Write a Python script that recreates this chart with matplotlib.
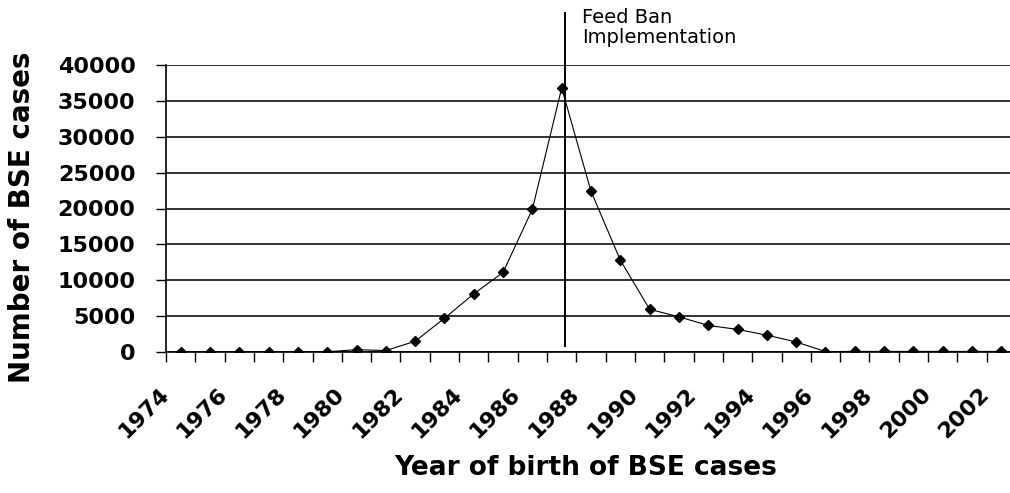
import matplotlib
matplotlib.use("Agg")
import matplotlib.pyplot as plt
import matplotlib.transforms as mtransforms
import numpy as np

# --- dados ---
years = list(range(1974, 2003))
cases = [20, 20, 20, 20, 20, 30, 330, 200, 1500, 4700, 8100, 11100, 19900,
         36800, 22400, 12800, 5950, 4900, 3700, 3150, 2350, 1400, 60,
         80, 80, 80, 80, 80, 80]
y_ticks = [0, 5000, 10000, 15000, 20000, 25000, 30000, 35000, 40000]
feed_ban_pos = 13.1   # posição da linha (índice de categoria)
feed_ban_label = "Feed Ban\nImplementation"

W, H = 1010, 493
fig = plt.figure(figsize=(W / 100, H / 100), dpi=100)
ax = fig.add_axes([166 / W, 1 - 352 / H, 850 / W, 287 / H])

x = np.arange(len(years))
ax.plot(x, cases, color="black", lw=0.8, marker="D", markersize=5.5,
        markerfacecolor="black", markeredgecolor="black", zorder=3)

ax.set_xlim(-0.5, len(years) - 0.5)
ax.set_ylim(0, 40000)

# grade horizontal
ax.set_yticks(y_ticks)
ax.yaxis.grid(True, color="#111111", lw=1.2)
ax.set_axisbelow(True)
ax.tick_params(axis="y", direction="out", length=7, width=1.0, pad=15,
               labelsize=16)
for lbl in ax.get_yticklabels():
    lbl.set_fontweight("bold")

# eixo x: marcas nas fronteiras, rótulos a cada dois anos
ax.set_xticks(np.arange(len(years) + 1) - 0.5)
ax.set_xticklabels([])
ax.tick_params(axis="x", which="major", direction="out", length=7, width=1.0)
ax.set_xticks(x[::2], [str(y) for y in years[::2]], minor=True)
ax.tick_params(axis="x", which="minor", length=0, pad=23, labelsize=16)
shift = mtransforms.ScaledTranslation(-0.08, 0, fig.dpi_scale_trans)
for lbl in ax.get_xticklabels(minor=True):
    lbl.set_rotation(45)
    lbl.set_ha("right")
    lbl.set_va("top")
    lbl.set_fontweight("bold")
    lbl.set_transform(lbl.get_transform() + shift)

for s in ["top", "right"]:
    ax.spines[s].set_visible(False)
ax.spines["left"].set_linewidth(1.2)
ax.spines["bottom"].set_linewidth(1.2)

# linha da proibição da ração
ax.plot([feed_ban_pos, feed_ban_pos], [800, 47300], color="black", lw=1.4,
        clip_on=False, zorder=4)
ax.text(feed_ban_pos + 0.6, 47900, feed_ban_label, fontsize=14, va="top",
        ha="left", linespacing=1.05, clip_on=False)

fig.text(22 / W, 1 - 217 / H, "Number of BSE cases", rotation=90,
         ha="center", va="center", fontsize=20, fontweight="bold")
fig.text(586 / W, 1 - 468 / H, "Year of birth of BSE cases",
         ha="center", va="center", fontsize=19, fontweight="bold")

fig.savefig("out.png", dpi=100)
